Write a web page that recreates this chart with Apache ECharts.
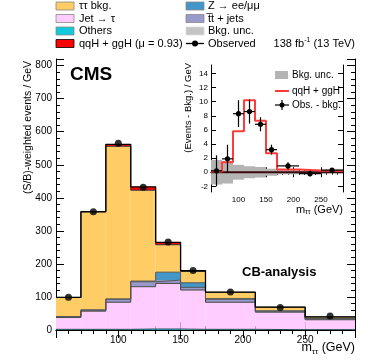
<!DOCTYPE html>
<html>
<head>
<meta charset="utf-8">
<script src="https://cdn.jsdelivr.net/npm/echarts@6/dist/echarts.min.js"></script>
<style>
  html, body { margin: 0; padding: 0; background: #fff; }
  #main { width: 374px; height: 363px; }
</style>
</head>
<body>
<div id="main"></div>
<script>
"use strict";

// bin edges in m_tautau (GeV)
var binEdges = [50, 70, 90, 110, 130, 150, 170, 210, 250, 290];

// stacked contributions, (S/B)-weighted events / GeV (bottom to top)
var othersVals = [2, 2, 2, 3, 3, 2, 2, 1, 1];
var jetTauVals = [36, 55, 82, 128, 138, 119, 82, 53, 30];
var ttbarVals = [2, 3, 9, 15, 10, 8, 9, 3, 3];
var zllVals = [0.5, 1, 1, 2, 24, 14, 2, 1, 0.5];
var tautauVals = [58, 296, 462, 275, 83, 34, 19, 11, 5];
var signalVals = [0.1, 1.4, 5.8, 10.2, 7.3, 2.7, 0.4, 0.25, 0.2];
var observedVals = [99, 358, 565, 432, 266, 180, 115, 68, 42];

// inset: events - bkg. / GeV
var bkgUncVals = [1.75, 1.6, 1.05, 0.85, 0.75, 0.5, 0.3, 0.2, 0.15];
var obsMinusBkg = [0.2, 1.9, 8.3, 8.6, 6.8, 3.2, 0.9, -0.2, 0.3];
var obsMinusBkgErr = [2.2, 2.0, 1.9, 1.7, 1.0, 0.7, 0.5, 0.4, 0.3];

var mainXTicks = [100, 150, 200, 250];
var insetYTicks = [-2, 0, 2, 4, 6, 8, 10, 12, 14];

var FONT = "Liberation Sans, Arial, sans-serif";

function steps(vals) {
  var out = [];
  for (var i = 0; i < vals.length; i++) {
    out.push([binEdges[i], vals[i]]);
    out.push([binEdges[i + 1], vals[i]]);
  }
  return out;
}
var binCenters = [];
for (var i = 0; i < binEdges.length - 1; i++) binCenters.push((binEdges[i] + binEdges[i + 1]) / 2);

var layers = [
  { name: "Others", vals: othersVals, fill: "#12c8dc", edge: "#2a4a55", width: 1 },
  { name: "Jet \u2192 \u03c4", vals: jetTauVals, fill: "#ffccff", edge: "#444", width: 1 },
  { name: "tt + jets", vals: ttbarVals, fill: "#9999cc", edge: "#555", width: 1 },
  { name: "Z \u2192 ee/\u03bc\u03bc", vals: zllVals, fill: "#4496c8", edge: "#555", width: 1 },
  { name: "\u03c4\u03c4 bkg.", vals: tautauVals, fill: "#ffcc66", edge: "#333", width: 1 },
  { name: "qqH + ggH", vals: signalVals, fill: "#ff0000", edge: "#000", width: 1.3 },
];

function rectItem(params, api) {
  var p0 = api.coord([api.value(0), api.value(3)]);
  var p1 = api.coord([api.value(1), api.value(2)]);
  return {
    type: "rect",
    shape: { x: p0[0], y: p0[1], width: p1[0] - p0[0], height: p1[1] - p0[1] },
    style: { fill: api.visual("color") },
  };
}

var stackSeries = [];
var outlineSeries = [];
var running = binCenters.map(function () { return 0; });
layers.forEach(function (ly, k) {
  var rows = [];
  var tops = [];
  ly.vals.forEach(function (v, i) {
    rows.push([binEdges[i], binEdges[i + 1], running[i], running[i] + v]);
    running[i] += v;
    tops.push(running[i]);
  });
  stackSeries.push({
    name: ly.name,
    type: "custom",
    xAxisIndex: 0,
    yAxisIndex: 0,
    itemStyle: { color: ly.fill },
    data: rows,
    renderItem: rectItem,
    z: 2,
  });
  outlineSeries.push({
    name: ly.name + " edge",
    type: "line",
    xAxisIndex: 0,
    yAxisIndex: 0,
    data: steps(tops),
    showSymbol: false,
    symbol: "none",
    lineStyle: { color: ly.edge, width: ly.width },
    z: 3,
  });
});

function tickAxis(base) {
  return Object.assign(
    {
      axisLine: { show: true, lineStyle: { color: "#000", width: 1 } },
      axisTick: { show: true, inside: true, length: 8, lineStyle: { color: "#000" } },
      minorTick: { show: true, splitNumber: 5, length: 4, lineStyle: { color: "#000" } },
      splitLine: { show: false },
      minorSplitLine: { show: false },
    },
    base
  );
}

var chartDom = document.getElementById("main");
var myChart = echarts.init(chartDom, null, { renderer: "canvas" });

var option = {
  animation: false,
  backgroundColor: "#fff",
  textStyle: { fontFamily: FONT, color: "#000" },
  grid: [
    { left: 56, top: 59, width: 299, height: 271 },
    { left: 211, top: 65, width: 132, height: 127, show: true, backgroundColor: "#fff", borderWidth: 0 },
  ],
  xAxis: [
    tickAxis({
      gridIndex: 0, type: "value", position: "bottom", min: 50, max: 290, interval: 50,
      axisLabel: { fontSize: 10, color: "#000", margin: 5,
        formatter: function (v) { return mainXTicks.indexOf(v) >= 0 ? String(v) : ""; } },
    }),
    tickAxis({
      gridIndex: 0, type: "value", position: "top", min: 50, max: 290, interval: 50,
      axisLabel: { show: false },
    }),
    tickAxis({
      gridIndex: 1, type: "value", position: "bottom", min: 50, max: 290, interval: 50,
      axisTick: { show: true, inside: true, length: 5, lineStyle: { color: "#000" } },
      minorTick: { show: true, splitNumber: 5, length: 2.5, lineStyle: { color: "#000" } },
      axisLabel: { fontSize: 8, color: "#000", margin: 4,
        formatter: function (v) { return mainXTicks.indexOf(v) >= 0 ? String(v) : ""; } },
    }),
    tickAxis({
      gridIndex: 1, type: "value", position: "top", min: 50, max: 290, interval: 50,
      axisTick: { show: true, inside: true, length: 5, lineStyle: { color: "#000" } },
      minorTick: { show: true, splitNumber: 5, length: 2.5, lineStyle: { color: "#000" } },
      axisLabel: { show: false },
    }),
  ],
  yAxis: [
    tickAxis({
      gridIndex: 0, type: "value", position: "left", min: 0, max: 820, interval: 100,
      axisLabel: { fontSize: 10, color: "#000", margin: 4,
        formatter: function (v) { return v <= 800 ? String(v) : ""; } },
    }),
    tickAxis({
      gridIndex: 0, type: "value", position: "right", min: 0, max: 820, interval: 100,
      axisLabel: { show: false },
    }),
    tickAxis({
      gridIndex: 1, type: "value", position: "left", min: -2.8, max: 15.2,
      axisTick: { show: true, inside: true, length: 5, customValues: insetYTicks, lineStyle: { color: "#000" } },
      minorTick: { show: false },
      axisLabel: { fontSize: 8, color: "#000", margin: 3, customValues: insetYTicks },
    }),
    tickAxis({
      gridIndex: 1, type: "value", position: "right", min: -2.8, max: 15.2,
      axisTick: { show: true, inside: true, length: 5, customValues: insetYTicks, lineStyle: { color: "#000" } },
      minorTick: { show: false },
      axisLabel: { show: false },
    }),
  ],
  series: stackSeries.concat(outlineSeries, [
    {
      name: "Observed",
      type: "scatter",
      xAxisIndex: 0,
      yAxisIndex: 0,
      data: binCenters.map(function (c, i) { return [c, observedVals[i]]; }),
      symbol: "circle",
      symbolSize: 7,
      itemStyle: { color: "#000" },
      z: 4,
    },
    // inset
    {
      name: "Bkg. unc.",
      type: "custom",
      xAxisIndex: 2,
      yAxisIndex: 2,
      z: 4,
      itemStyle: { color: "#b4b4b4" },
      data: bkgUncVals.map(function (u, i) { return [binEdges[i], binEdges[i + 1], -u, u]; }),
      renderItem: rectItem,
    },
    {
      name: "bkg line",
      type: "line",
      xAxisIndex: 2,
      yAxisIndex: 2,
      z: 5,
      data: [[binEdges[0], 0], [binEdges[binEdges.length - 1], 0]],
      showSymbol: false,
      symbol: "none",
      lineStyle: { color: "#3a0a0a", width: 2 },
    },
    {
      name: "qqH + ggH inset",
      type: "line",
      xAxisIndex: 2,
      yAxisIndex: 2,
      z: 6,
      data: steps(signalVals),
      showSymbol: false,
      symbol: "none",
      lineStyle: { color: "#ff3b3b", width: 2 },
    },
    {
      name: "Obs. - bkg.",
      type: "custom",
      xAxisIndex: 2,
      yAxisIndex: 2,
      z: 7,
      data: obsMinusBkg.map(function (v, i) { return [binEdges[i], binEdges[i + 1], v, obsMinusBkgErr[i]]; }),
      renderItem: function (params, api) {
        var y = api.value(2), e = api.value(3);
        var xc = (api.value(0) + api.value(1)) / 2;
        var l = api.coord([api.value(0), y]);
        var r = api.coord([api.value(1), y]);
        var t = api.coord([xc, y + e]);
        var b = api.coord([xc, y - e]);
        var st = { stroke: "#000", lineWidth: 1.2 };
        return {
          type: "group",
          children: [
            { type: "line", shape: { x1: l[0], y1: l[1], x2: r[0], y2: r[1] }, style: st },
            { type: "line", shape: { x1: t[0], y1: t[1], x2: b[0], y2: b[1] }, style: st },
            { type: "circle", shape: { cx: t[0], cy: l[1], r: 2.6 }, style: { fill: "#000" } },
          ],
        };
      },
    },
  ]),
  graphic: [
    // legend, column 1
    { type: "rect", shape: { x: 56, y: 2, width: 18, height: 8 }, style: { fill: "#ffcc66", stroke: "#888", lineWidth: 0.8 } },
    { type: "text", x: 79, y: 6, style: { text: "\u03c4\u03c4 bkg.", font: "11px " + FONT, fill: "#000", verticalAlign: "middle" } },
    { type: "rect", shape: { x: 56, y: 14.5, width: 18, height: 8 }, style: { fill: "#ffccff", stroke: "#888", lineWidth: 0.8 } },
    { type: "text", x: 79, y: 18.5, style: { text: "Jet \u2192 \u03c4", font: "11px " + FONT, fill: "#000", verticalAlign: "middle" } },
    { type: "rect", shape: { x: 56, y: 27, width: 18, height: 8 }, style: { fill: "#12c8dc", stroke: "#888", lineWidth: 0.8 } },
    { type: "text", x: 79, y: 31, style: { text: "Others", font: "11px " + FONT, fill: "#000", verticalAlign: "middle" } },
    { type: "rect", shape: { x: 56, y: 39.5, width: 18, height: 8 }, style: { fill: "#ff0000", stroke: "#000", lineWidth: 0.8 } },
    { type: "text", x: 79, y: 43.5, style: { text: "qqH + ggH (\u03bc = 0.93)", font: "11px " + FONT, fill: "#000", verticalAlign: "middle" } },
    // legend, column 2
    { type: "rect", shape: { x: 186, y: 2, width: 18, height: 8 }, style: { fill: "#4496c8", stroke: "#888", lineWidth: 0.8 } },
    { type: "text", x: 208, y: 6, style: { text: "Z \u2192 ee/\u03bc\u03bc", font: "11px " + FONT, fill: "#000", verticalAlign: "middle" } },
    { type: "rect", shape: { x: 186, y: 14.5, width: 18, height: 8 }, style: { fill: "#9999cc", stroke: "#888", lineWidth: 0.8 } },
    { type: "text", x: 208, y: 18.5, style: { text: "t\u0305t + jets", font: "11px " + FONT, fill: "#000", verticalAlign: "middle" } },
    { type: "rect", shape: { x: 186, y: 27, width: 18, height: 8 }, style: { fill: "#c4c4c4", stroke: "#ddd", lineWidth: 0.8 } },
    { type: "text", x: 208, y: 31, style: { text: "Bkg. unc.", font: "11px " + FONT, fill: "#000", verticalAlign: "middle" } },
    { type: "line", shape: { x1: 186, y1: 43.5, x2: 204, y2: 43.5 }, style: { stroke: "#000", lineWidth: 1.3 } },
    { type: "circle", shape: { cx: 195, cy: 43.5, r: 3 }, style: { fill: "#000" } },
    { type: "text", x: 208, y: 43.5, style: { text: "Observed", font: "11px " + FONT, fill: "#000", verticalAlign: "middle" } },
    {
      type: "text", x: 355, y: 43.5,
      style: {
        text: "138 fb{sup|-1} (13 TeV)", font: "11px " + FONT, fill: "#000", align: "right", verticalAlign: "middle",
        rich: { sup: { fontSize: 7, fontFamily: FONT, padding: [0, 0, 6, 0] } },
      },
    },
    // labels
    { type: "text", x: 70, y: 75, style: { text: "CMS", font: "bold 19px " + FONT, fill: "#000", verticalAlign: "middle" } },
    { type: "text", x: 242, y: 272.5, z: 10, style: { text: "CB-analysis", font: "bold 13px " + FONT, fill: "#000", verticalAlign: "middle" } },
    {
      type: "text", x: 28, y: 61, rotation: Math.PI / 2,
      style: { text: "(S/B)-weighted events / GeV", font: "10.5px " + FONT, fill: "#000", align: "right", verticalAlign: "middle" },
    },
    {
      type: "text", x: 355, y: 348,
      style: {
        text: "m{sub|\u03c4\u03c4} (GeV)", font: "12.5px " + FONT, fill: "#000", align: "right", verticalAlign: "middle",
        rich: { sub: { fontSize: 8, fontFamily: FONT, padding: [7, 0, 0, 0] } },
      },
    },
    {
      type: "text", x: 188, y: 63, rotation: Math.PI / 2,
      style: { text: "(Events - Bkg.) / GeV", font: "9.5px " + FONT, fill: "#000", align: "right", verticalAlign: "middle" },
    },
    {
      type: "text", x: 343, y: 210,
      style: {
        text: "m{sub|\u03c4\u03c4} (GeV)", font: "11px " + FONT, fill: "#000", align: "right", verticalAlign: "middle",
        rich: { sub: { fontSize: 7, fontFamily: FONT, padding: [5, 0, 0, 0] } },
      },
    },
    // inset legend
    { type: "rect", z: 20, shape: { x: 275, y: 71, width: 13, height: 8 }, style: { fill: "#b4b4b4" } },
    { type: "text", z: 20, x: 292, y: 75, style: { text: "Bkg. unc.", font: "10px " + FONT, fill: "#000", verticalAlign: "middle" } },
    { type: "line", z: 20, shape: { x1: 275, y1: 91, x2: 289, y2: 91 }, style: { stroke: "#ff3b3b", lineWidth: 2 } },
    { type: "text", z: 20, x: 292, y: 91, style: { text: "qqH + ggH", font: "10px " + FONT, fill: "#000", verticalAlign: "middle" } },
    { type: "line", z: 20, shape: { x1: 275, y1: 105, x2: 289, y2: 105 }, style: { stroke: "#000", lineWidth: 1.2 } },
    { type: "line", z: 20, shape: { x1: 282, y1: 100, x2: 282, y2: 110 }, style: { stroke: "#000", lineWidth: 1.2 } },
    { type: "circle", z: 20, shape: { cx: 282, cy: 105, r: 2.5 }, style: { fill: "#000" } },
    { type: "text", z: 20, x: 292, y: 105, style: { text: "Obs. - bkg.", font: "10px " + FONT, fill: "#000", verticalAlign: "middle" } },
  ],
};

option && myChart.setOption(option);
</script>
</body>
</html>
